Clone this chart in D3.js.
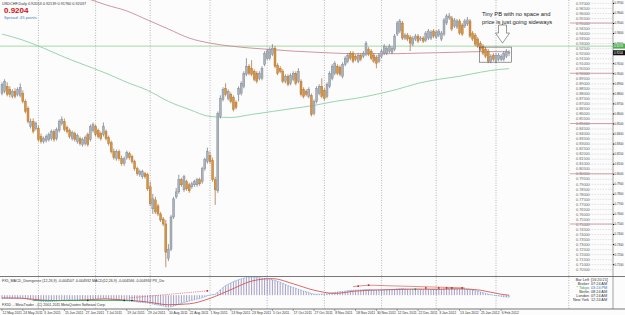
<!DOCTYPE html>
<html>
<head>
<meta charset="utf-8">
<script src="https://cdn.jsdelivr.net/npm/d3@7"></script>
<style>
  body { margin: 0; background: #fff; }
  svg { display: block; }
  text { font-family: "Liberation Sans", Arial, sans-serif; }
</style>
</head>
<body>
<div id="chart"></div>
<script>
// USDCHF daily, 12 May 2011 .. 9 Feb 2012 (bar index 0..195)
const dateLabels = ["12 May 2011","24 May 2011","3 Jun 2011","15 Jun 2011","27 Jun 2011","7 Jul 2011",
  "19 Jul 2011","29 Jul 2011","10 Aug 2011","22 Aug 2011","1 Sep 2011","13 Sep 2011","23 Sep 2011",
  "5 Oct 2011","17 Oct 2011","27 Oct 2011","8 Nov 2011","18 Nov 2011","30 Nov 2011","12 Dec 2011",
  "22 Dec 2011","3 Jan 2012","13 Jan 2012","25 Jan 2012","6 Feb 2012"];
const labelStep = 8;
const monthStarts = [14, 36, 57, 80, 102, 124, 146, 167, 190, 218];

// [open, high, low, close]
const ohlc = [
  [.880,.891,.878,.889],[.882,.894,.880,.892],[.887,.891,.877,.879],[.884,.887,.876,.879],[.877,.884,.875,.882],
  [.882,.885,.875,.877],[.879,.886,.877,.884],[.878,.890,.876,.886],[.880,.883,.870,.872],[.872,.874,.860,.862],
  [.865,.867,.850,.852],[.847,.855,.845,.852],[.852,.855,.840,.842],[.845,.852,.843,.850],[.845,.848,.832,.834],
  [.837,.840,.830,.832],[.832,.837,.830,.835],[.833,.839,.831,.837],[.834,.841,.832,.839],[.835,.844,.833,.842],
  [.842,.844,.832,.834],[.835,.846,.833,.844],[.843,.854,.841,.852],[.850,.857,.848,.854],[.852,.855,.842,.844],
  [.846,.848,.840,.842],[.843,.845,.835,.837],[.835,.843,.833,.841],[.840,.842,.832,.834],[.832,.840,.830,.838],
  [.835,.837,.828,.830],[.829,.836,.827,.834],[.830,.838,.828,.836],[.839,.841,.827,.829],[.834,.849,.832,.847],
  [.843,.851,.841,.849],[.847,.849,.837,.839],[.843,.845,.835,.837],[.840,.842,.833,.835],[.839,.851,.837,.847],
  [.842,.844,.833,.835],[.836,.838,.828,.830],[.831,.833,.820,.822],[.822,.825,.814,.816],[.815,.824,.813,.822],
  [.822,.824,.813,.815],[.815,.818,.808,.810],[.810,.817,.808,.815],[.816,.823,.814,.821],[.820,.822,.814,.816],
  [.817,.819,.810,.812],[.812,.814,.803,.805],[.805,.807,.798,.800],[.799,.804,.797,.802],[.797,.804,.795,.802],
  [.800,.802,.795,.797],[.799,.801,.783,.785],[.787,.792,.768,.770],[.765,.780,.760,.775],[.774,.777,.760,.762],
  [.768,.770,.758,.760],[.760,.762,.752,.754],[.755,.757,.748,.750],[.750,.754,.707,.722],[.716,.730,.713,.725],
  [.725,.759,.723,.757],[.757,.777,.755,.775],[.777,.786,.775,.782],[.782,.799,.780,.794],[.794,.796,.787,.789],
  [.784,.799,.782,.797],[.792,.794,.783,.785],[.789,.791,.781,.783],[.787,.792,.785,.790],[.789,.794,.787,.792],
  [.789,.796,.787,.794],[.794,.796,.788,.790],[.792,.807,.790,.805],[.805,.816,.803,.814],[.812,.826,.810,.822],
  [.818,.822,.810,.812],[.813,.816,.792,.794],[.794,.797,.769,.784],[.783,.862,.781,.860],[.857,.878,.855,.875],
  [.874,.886,.872,.884],[.885,.890,.877,.879],[.875,.884,.873,.882],[.879,.881,.870,.872],[.876,.878,.862,.864],
  [.871,.873,.864,.866],[.879,.887,.872,.885],[.880,.892,.878,.890],[.887,.902,.885,.900],[.899,.915,.897,.907],
  [.907,.909,.898,.900],[.905,.913,.897,.899],[.902,.904,.892,.894],[.900,.902,.890,.892],[.895,.902,.893,.900],
  [.895,.907,.893,.905],[.909,.922,.907,.920],[.915,.924,.913,.922],[.915,.926,.913,.924],[.919,.929,.917,.925],
  [.925,.927,.905,.907],[.908,.910,.898,.900],[.905,.907,.900,.902],[.902,.904,.890,.892],[.892,.899,.890,.897],
  [.897,.899,.887,.889],[.890,.900,.888,.898],[.894,.902,.892,.900],[.900,.902,.888,.890],[.892,.905,.890,.902],
  [.892,.894,.877,.879],[.884,.886,.875,.877],[.882,.884,.877,.879],[.877,.886,.875,.884],[.878,.880,.857,.859],
  [.860,.874,.858,.872],[.872,.887,.870,.885],[.880,.889,.878,.887],[.887,.895,.875,.877],[.883,.885,.873,.875],
  [.877,.891,.875,.889],[.887,.902,.885,.900],[.895,.909,.893,.907],[.900,.912,.898,.910],[.907,.909,.898,.900],
  [.906,.908,.897,.899],[.897,.911,.895,.909],[.909,.917,.907,.915],[.912,.920,.910,.918],[.920,.922,.913,.915],
  [.920,.922,.910,.912],[.917,.919,.912,.914],[.912,.920,.910,.918],[.918,.920,.912,.914],[.917,.922,.915,.920],
  [.919,.932,.917,.930],[.924,.926,.917,.919],[.922,.924,.913,.915],[.918,.920,.910,.912],[.916,.918,.905,.910],
  [.912,.920,.910,.918],[.917,.924,.915,.922],[.920,.929,.918,.927],[.920,.927,.918,.925],[.922,.929,.920,.927],
  [.921,.927,.919,.925],[.924,.939,.922,.937],[.939,.952,.937,.950],[.942,.954,.940,.952],[.950,.952,.933,.935],
  [.935,.940,.933,.938],[.938,.940,.932,.934],[.936,.938,.922,.930],[.929,.937,.927,.935],[.934,.939,.932,.937],
  [.937,.939,.930,.932],[.934,.937,.932,.935],[.935,.937,.930,.932],[.933,.942,.931,.940],[.935,.944,.933,.942],
  [.935,.943,.933,.941],[.942,.944,.935,.937],[.936,.943,.934,.941],[.938,.944,.936,.942],[.934,.942,.932,.940],
  [.939,.955,.937,.953],[.950,.959,.948,.957],[.955,.960,.953,.957],[.955,.957,.942,.944],[.947,.955,.945,.953],
  [.946,.954,.944,.952],[.952,.954,.938,.940],[.948,.950,.937,.939],[.947,.954,.945,.952],[.949,.956,.947,.953],
  [.952,.954,.935,.937],[.940,.942,.932,.934],[.938,.940,.927,.929],[.934,.936,.925,.927],[.930,.932,.922,.924],
  [.927,.929,.918,.920],[.924,.926,.915,.917],[.922,.924,.910,.912],[.912,.919,.910,.917],[.918,.920,.912,.914],
  [.912,.920,.910,.918],[.914,.920,.912,.918],[.914,.919,.912,.917],[.914,.922,.912,.920],[.917,.924,.915,.922],
  [.920,.923,.917,.9204]
];

// moving averages, read every 8 bars
const maIdx = [0,8,16,24,32,40,48,56,64,72,80,88,96,104,112,120,128,136,144,152,160,168,176,184,192,195];
const maRed = [.995,.990,.985,.980,.975,.968,.962,.953,.944,.935,.930,.927,.925,.9235,.922,.921,.920,.9195,.9195,.9195,.920,.9205,.921,.9215,.9215,.9215];
const maGreen = [.939,.933,.925,.916,.908,.900,.891,.883,.872,.864,.857,.856,.859,.862,.865,.868,.872,.875,.879,.884,.890,.894,.897,.901,.904,.9045];
const hLevel = 0.927;
const lastPrice = 0.9204;

// MACD main (x0.001), one per bar
const macd = [
  -8,-7,-7,-7,-7,-7,-6.5,-6, -6.5,-7.5,-9,-10,-11,-11.5,-12.5,-13.5,
  -14,-14,-14,-13.5,-13.5,-13,-12,-11, -10.5,-10,-10,-10,-10,-10.5,-10.5,-10.5,
  -10.5,-10.5,-9.5,-8.5,-8,-8,-8,-7.5, -7.5,-8,-9,-10,-10.5,-11,-12,-12.5,
  -12.5,-13,-13.5,-14,-15,-15.5,-16,-16.5, -17,-18.5,-19.5,-20.5,-21.5,-22.5,-23.5,-25.5,
  -26,-25.5,-24,-22,-20,-18,-16,-14.5, -13,-11.5,-10,-8.5,-7.5,-5.5,-3.5,-1.5,
  0.5,1.5,2,7,12,17,21,24, 27,30,32,34,36,37.5,39,39.5,
  40,40,39.5,38.5,37.5,37,36,35, 34,32.5,30.5,28.5,26,23.5,21,19,
  17,15,13,11,9,7.5,6,3.5, 2.5,2,2,2.5,2.5,3,4,5,
  6,7,7.5,8,9,10,10.5,11, 11,11.5,11.5,12,12.5,12.5,12,11.5,
  11,11,11.5,12,12,12.5,12.5,13, 14,14.5,14.5,14,13.5,13,13,13,
  12.5,12.5,12.5,13,13,13,13,13, 13,13.5,14,14.5,14.5,14,14,14,
  13.5,13,13,13,12.5,11.5,10,8.5, 7,5.5,4,2.5,1,0,-1,-1.5,
  -2.5,-3.5,-4,-4.5
];
const signalIdx = [0,8,16,24,32,40,48,56,64,72,80,88,96,104,112,120,128,136,144,152,160,168,176,184,192,195];
const signal = [-6,-7,-11,-12,-10.5,-8.5,-11,-15,-21,-19,-7,12,31,36.5,25,11,4,9,11.5,12.5,13.5,13,14,11,2,0];

// divergence marks in the indicator window: [barIndex, value]
const bullDivLine = [[12, -11.7], [50, -11.7]];
const bullDivDots = [[33, -11.7], [47, -11.7], [50, -11.7]];
const bearDivLine = [[49, -6], [79, 9.5]];
const bearDots = [[79, 9.5], [137, 20], [141, 22], [163, 16], [168, 16], [171, 16], [173, 16], [177, 16]];
const bearDotLine = [[135, 19], [141, 22], [178, 16]];
const greenDots = [[159, 13]];

const W = 625, H = 315;
const plotRight = 613, mainBottom = 276, indTop = 277, indBottom = 309;

const svg = d3.select("#chart").append("svg").attr("width", W).attr("height", H);
svg.append("rect").attr("width", W).attr("height", H).attr("fill", "#fcfcfc");

const x = d3.scaleLinear().domain([0, 195]).range([2, 509]);
const y = d3.scaleLinear().domain([0.75, 0.95]).range([224, 23]);
const yi = d3.scaleLinear().domain([-26, 40]).range([307, 277]);

svg.append("defs").append("clipPath").attr("id", "mainClip")
  .append("rect").attr("x", 0).attr("y", 0).attr("width", plotRight).attr("height", mainBottom);

// month grid
svg.append("g").selectAll("line").data(monthStarts).join("line")
  .attr("x1", d => x(d)).attr("x2", d => x(d)).attr("y1", 0).attr("y2", indBottom)
  .attr("stroke", "#8a8a8a").attr("stroke-width", 0.6).attr("stroke-dasharray", "1,1.5");

const main = svg.append("g").attr("clip-path", "url(#mainClip)");

// horizontal level
main.append("line").attr("x1", 0).attr("x2", plotRight).attr("y1", y(hLevel)).attr("y2", y(hLevel))
  .attr("stroke", "#8fcf8f").attr("stroke-width", 0.8);

const maLine = vals => d3.line().x((d, i) => x(maIdx[i])).y(d => y(d)).curve(d3.curveMonotoneX)(vals);
main.append("path").attr("d", maLine(maRed)).attr("fill", "none").attr("stroke", "#c98b96").attr("stroke-width", 0.9);
main.append("path").attr("d", maLine(maGreen)).attr("fill", "none").attr("stroke", "#8fcfa8").attr("stroke-width", 0.9);

// candles
const candle = main.append("g").selectAll("g").data(ohlc).join("g");
candle.append("line")
  .attr("x1", (d, i) => x(i)).attr("x2", (d, i) => x(i))
  .attr("y1", d => y(d[1])).attr("y2", d => y(d[2]))
  .attr("stroke", d => d[3] >= d[0] ? "#6a7280" : "#a8672a").attr("stroke-width", 0.7);
candle.append("rect")
  .attr("x", (d, i) => x(i) - 1).attr("width", 2)
  .attr("y", d => y(Math.max(d[0], d[3])))
  .attr("height", d => Math.max(0.6, Math.abs(y(d[0]) - y(d[3]))))
  .attr("fill", d => d[3] >= d[0] ? "#a9b1ba" : "#d39448")
  .attr("stroke", d => d[3] >= d[0] ? "#7d8590" : "#b0702e").attr("stroke-width", 0.4);

// annotation
const ann = svg.append("g");
ann.append("rect").attr("x", x(184) - 1).attr("y", y(0.926))
  .attr("width", x(196) - x(184) + 1).attr("height", y(0.911) - y(0.926))
  .attr("fill", "none").attr("stroke", "#555").attr("stroke-width", 0.6);
const ax = x(192.5), aTop = y(0.948), aHead = y(0.940), aTip = y(0.930);
ann.append("path")
  .attr("d", `M${ax-4},${aTop}H${ax+4}V${aHead}H${ax+7}L${ax},${aTip}L${ax-7},${aHead}H${ax-4}Z`)
  .attr("fill", "#fff").attr("stroke", "#555").attr("stroke-width", 0.6);
ann.append("text").attr("x", 482).attr("y", 16).attr("font-size", 5.8).attr("fill", "#222").text("Tiny PB with no space and");
ann.append("text").attr("x", 482).attr("y", 24).attr("font-size", 5.8).attr("fill", "#222").text("price is just going sideways");

// top-left info
svg.append("text").attr("x", 2).attr("y", 5).attr("font-size", 3.8).attr("fill", "#333")
  .text("USDCHF,Daily  0.92053 0.92139 0.91760 0.92037");
svg.append("text").attr("x", 4).attr("y", 13).attr("font-size", 8).attr("font-weight", "bold").attr("fill", "#d01010").text("0.9204");
svg.append("text").attr("x", 4).attr("y", 18.5).attr("font-size", 4.2).attr("fill", "#4a7ec0").text("Spread: 45 points");

// price ladder
const ladder = svg.append("g").attr("transform", "translate(573,0)");
ladder.call(d3.axisRight(y).tickValues(d3.range(0.705, 0.9701, 0.005)).tickFormat(d3.format(".5f")).tickSize(0))
  .call(g => g.select(".domain").remove())
  .call(g => g.selectAll("text").attr("x", 3).attr("font-size", 3.8).attr("fill", "#666").attr("dy", "0.32em"));
ladder.selectAll(".tick").append("line").attr("x1", 16).attr("x2", 40)
  .attr("stroke", "#aaa").attr("stroke-width", 0.5).attr("stroke-dasharray", "0.6,1");
ladder.append("g").selectAll("line").data([0.95, 0.90, 0.85, 0.80, 0.75]).join("line")
  .attr("x1", -3).attr("x2", 40).attr("y1", d => y(d)).attr("y2", d => y(d))
  .attr("stroke", "#c98b96").attr("stroke-width", 0.8);

// right axis
svg.append("line").attr("x1", plotRight).attr("x2", plotRight).attr("y1", 0).attr("y2", indBottom).attr("stroke", "#666").attr("stroke-width", 0.6);
const rAxis = svg.append("g").attr("transform", `translate(${plotRight},0)`)
  .call(d3.axisRight(y).tickValues(d3.range(0.71, 0.9701, 0.01)).tickFormat(d3.format(".4f")).tickSize(1.2));
rAxis.select(".domain").remove();
rAxis.selectAll("text").attr("font-size", 2.9).attr("fill", "#333").attr("x", 1.6);
const tag = (v, col, txt) => {
  svg.append("rect").attr("x", plotRight).attr("y", y(v) - 2.5).attr("width", 12).attr("height", 5).attr("fill", col);
  svg.append("text").attr("x", plotRight + 1).attr("y", y(v) + 1.1).attr("font-size", 2.9).attr("fill", "#fff").text(txt);
};
tag(hLevel, "#4caf50", "0.9270");
tag(lastPrice, "#111", "0.9204");

// indicator panel
svg.append("line").attr("x1", 0).attr("x2", W).attr("y1", mainBottom + 0.5).attr("y2", mainBottom + 0.5).attr("stroke", "#555").attr("stroke-width", 0.8);
svg.append("line").attr("x1", 0).attr("x2", W).attr("y1", indBottom).attr("y2", indBottom).attr("stroke", "#555").attr("stroke-width", 0.8);
const ind = svg.append("g");
ind.selectAll("line.h").data(macd).join("line").attr("class", "h")
  .attr("x1", (d, i) => x(i)).attr("x2", (d, i) => x(i)).attr("y1", yi(0)).attr("y2", d => yi(d))
  .attr("stroke", "#5b4f96").attr("stroke-width", 0.55);
ind.append("path").attr("d", d3.line().x((d, i) => x(i)).y(d => yi(d))(macd))
  .attr("fill", "none").attr("stroke", "#5aa8e6").attr("stroke-width", 0.8).attr("stroke-dasharray", "1,0.8");
ind.append("path").attr("d", d3.line().x((d, i) => x(signalIdx[i])).y(d => yi(d)).curve(d3.curveMonotoneX)(signal))
  .attr("fill", "none").attr("stroke", "#d0453f").attr("stroke-width", 0.8);

const pt = d => [x(d[0]), yi(d[1])];
ind.append("path").attr("d", d3.line()(bullDivLine.map(pt))).attr("stroke", "#3aa04a").attr("stroke-width", 0.8).attr("fill", "none");
ind.selectAll("circle.bd").data(bullDivDots).join("circle").attr("class", "bd")
  .attr("cx", d => x(d[0])).attr("cy", d => yi(d[1])).attr("r", 0.8).attr("fill", "#222");
ind.append("path").attr("d", d3.line()(bearDivLine.map(pt))).attr("stroke", "#d0453f").attr("stroke-width", 0.6)
  .attr("stroke-dasharray", "1.2,1").attr("fill", "none");
ind.append("path").attr("d", d3.line()(bearDotLine.map(pt))).attr("stroke", "#d0453f").attr("stroke-width", 0.6).attr("fill", "none");
ind.selectAll("circle.rd").data(bearDots).join("circle").attr("class", "rd")
  .attr("cx", d => x(d[0])).attr("cy", d => yi(d[1])).attr("r", 0.9).attr("fill", "#d02020");
ind.selectAll("circle.gd").data(greenDots).join("circle").attr("class", "gd")
  .attr("cx", d => x(d[0])).attr("cy", d => yi(d[1])).attr("r", 0.9).attr("fill", "#2e9a4a");

ind.append("text").attr("x", 2).attr("y", 282).attr("font-size", 3.6).attr("fill", "#333")
  .text("FX5_MACD_Divergence (12,26,9)  -0.004507  -0.004932  MACD(12,26,9)  -0.004566  -0.004932  PX_Div");
ind.append("text").attr("x", 2).attr("y", 306).attr("font-size", 3.6).attr("fill", "#333")
  .text("FX5D -- MetaTrader - (C) 2001-2011 MetaQuotes Software Corp.");

// clocks
const clockNames = ["Bar Left", "Broker", "* Tokyo", "Berlin", "London", "New York"];
const clockTimes = ["[16:20:21]", "07:24 AM", "03:24 PM", "08:24 AM", "07:24 AM", "12:24 AM"];
const clk = svg.append("g");
clk.selectAll("text.n").data(clockNames).join("text").attr("class", "n")
  .attr("x", 589).attr("y", (d, i) => 281 + i * 4).attr("text-anchor", "end").attr("font-size", 3.8)
  .attr("fill", (d, i) => i === 2 ? "#2e9a4a" : "#333").text(d => d);
clk.selectAll("text.t").data(clockTimes).join("text").attr("class", "t")
  .attr("x", 591).attr("y", (d, i) => 281 + i * 4).attr("font-size", 3.8)
  .attr("fill", (d, i) => i === 2 ? "#3a6fc0" : "#333").text(d => d);

// date axis
const dax = svg.append("g");
dax.selectAll("line").data(dateLabels).join("line")
  .attr("x1", (d, i) => x(i * labelStep)).attr("x2", (d, i) => x(i * labelStep))
  .attr("y1", indBottom).attr("y2", indBottom + 2).attr("stroke", "#555").attr("stroke-width", 0.5);
dax.selectAll("text").data(dateLabels).join("text")
  .attr("x", (d, i) => x(i * labelStep) + 0.5).attr("y", 313.5).attr("font-size", 3.4).attr("fill", "#333").text(d => d);
</script>
</body>
</html>
